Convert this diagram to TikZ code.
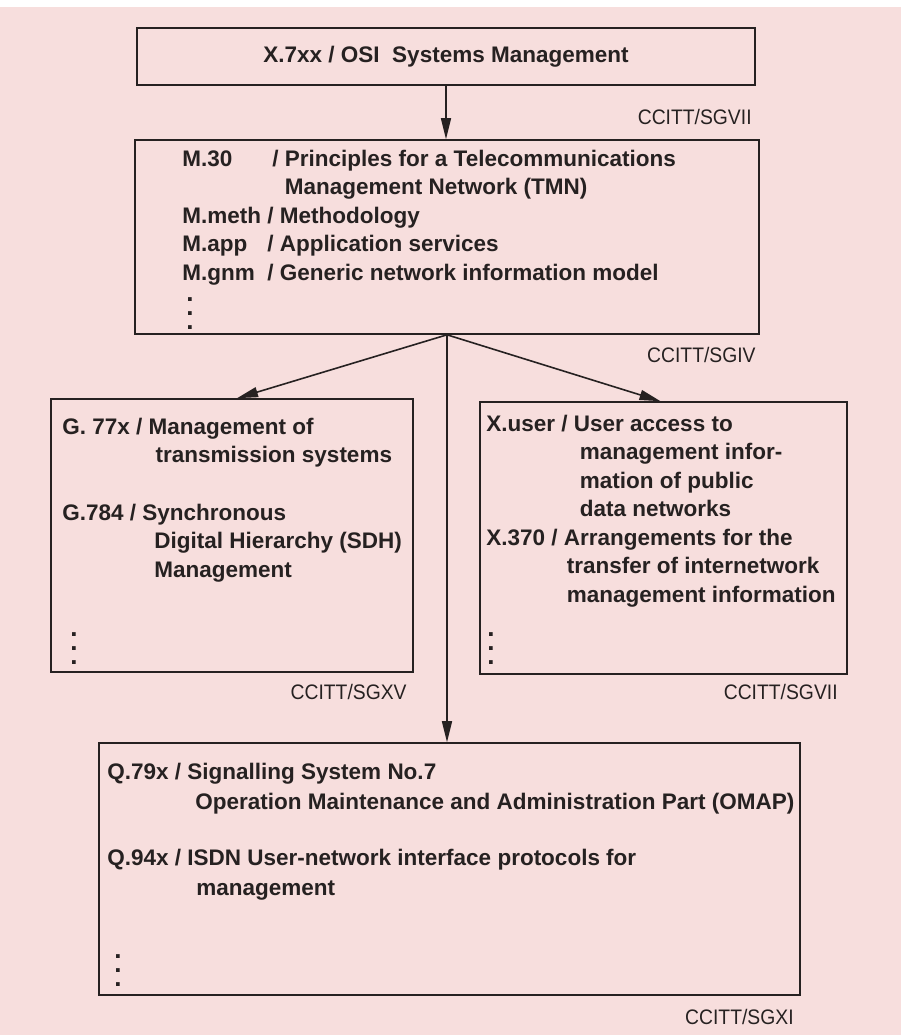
\documentclass[tikz,border=0pt]{standalone}
\usepackage{fontspec}
\setmainfont{Liberation Sans}
\newfontfamily\labelfont[FakeStretch=0.92]{Liberation Sans}
\usetikzlibrary{arrows.meta,positioning,calc}
\definecolor{paperpink}{HTML}{F7DEDD}
\definecolor{inkgray}{HTML}{262121}
\newcommand{\tridots}{\vtop{\baselineskip=14pt\lineskiplimit=-20pt\hbox{.}\hbox{.}\hbox{.}}}
\tikzset{
  box/.style={draw=inkgray,line width=1.6pt,inner sep=0pt,text=inkgray,font=\fontsize{22.5}{28.5}\selectfont\bfseries},
  entry/.style={anchor=base west,inner sep=0pt,text=inkgray,font=\fontsize{22.5}{28.5}\selectfont\bfseries},
  wideentry/.style={entry,font=\fontsize{22.5}{30.5}\selectfont\bfseries},
  dotstack/.style={anchor=base west,inner sep=0pt,text=inkgray,font=\fontsize{26}{14}\selectfont\bfseries},
  group/.style={anchor=base east,inner sep=0pt,text=inkgray,font=\labelfont\fontsize{21}{24}\selectfont},
  flow/.style={-{Triangle[length=21pt,width=10pt]},line width=1.6pt,draw=inkgray}
}

\begin{document}
\begin{tikzpicture}[x=1pt,y=-1pt]
  \useasboundingbox (0,0) rectangle (901,1035);
  \fill[paperpink] (0,0) rectangle (901,1035);
  \fill[white] (0,0) rectangle (901,7);

  % X.7xx
  \node[box,minimum width=618pt,minimum height=57pt] (osi) at (446,56.5) {X.7xx / OSI\ \ Systems Management};
  \node[group] (sgtop) at ([shift={(-4,39)}]osi.south east) {CCITT/SGVII};

  % M series
  \node[box,minimum width=624pt,minimum height=194pt] (mgmt) at (447,237) {};
  \node[entry] (mlist) at ([shift={(48,27)}]mgmt.north west) {%
    \begin{tabular}[t]{@{}l@{}l@{}}
      M.30 & \hspace{5pt}/ Principles for a Telecommunications\\
           & \hspace{5pt}\phantom{/ }Management Network (TMN)\\
      M.meth\ \null & / Methodology\\
      M.app & / Application services\\
      M.gnm & / Generic network information model
    \end{tabular}};
  \node[dotstack] (mdots) at ([shift={(52,162)}]mgmt.north west) {\tridots};
  \node[group] (sgiv) at ([shift={(-4,28)}]mgmt.south east) {CCITT/SGIV};

  % G series
  \node[box,minimum width=362pt,minimum height=273pt] (tx) at (232,535.5) {};
  \node[entry] (g77x) at ([shift={(12,36)}]tx.north west) {G. 77x / \begin{tabular}[t]{@{}l@{}}Management of\\\hspace{7pt}transmission systems\end{tabular}};
  \node[entry] (g784) at ([shift={(12,122)}]tx.north west) {G.784 / \begin{tabular}[t]{@{}l@{}}Synchronous\\\hspace{12pt}Digital Hierarchy (SDH)\\\hspace{12pt}Management\end{tabular}};
  \node[dotstack] (gdots) at ([shift={(20,238)}]tx.north west) {\tridots};
  \node[group] (sgxv) at ([shift={(-7,27)}]tx.south east) {CCITT/SGXV};

  % X series
  \node[box,minimum width=367pt,minimum height=272pt] (rx) at (663.5,538) {};
  \node[entry] (xuser) at ([shift={(7,30)}]rx.north west) {X.user / \begin{tabular}[t]{@{}l@{}}User access to\\\hspace{6pt}management infor-\\\hspace{6pt}mation of public\\\hspace{6pt}data networks\end{tabular}};
  \node[entry] (x370) at ([shift={(7,144)}]rx.north west) {X.370 / \begin{tabular}[t]{@{}l@{}}Arrangements for the\\\hspace{3pt}transfer of internetwork\\\hspace{3pt}management information\end{tabular}};
  \node[dotstack] (xdots) at ([shift={(8,235)}]rx.north west) {\tridots};
  \node[group] (sgvii) at ([shift={(-10,25)}]rx.south east) {CCITT/SGVII};

  % Q series
  \node[box,minimum width=701pt,minimum height=252pt] (q) at (449.5,869) {};
  \node[wideentry] (q79x) at ([shift={(9,37)}]q.north west) {Q.79x / \begin{tabular}[t]{@{}l@{}}Signalling System No.7\\\hspace{8pt}Operation Maintenance and Administration Part (OMAP)\end{tabular}};
  \node[wideentry] (q94x) at ([shift={(9,123)}]q.north west) {Q.94x / \begin{tabular}[t]{@{}l@{}}ISDN User-network interface protocols for\\\hspace{9pt}management\end{tabular}};
  \node[dotstack] (qdots) at ([shift={(16,216)}]q.north west) {\tridots};
  \node[group] (sgxi) at ([shift={(-7,29)}]q.south east) {CCITT/SGXI};

  \coordinate (split) at (mgmt.south);
  \draw[flow] (osi.south) -- (osi.south |- mgmt.north);
  \draw[flow] (split) -- ([xshift=5pt]tx.north);
  \draw[flow] (split) -- ([xshift=-3pt]rx.north);
  \draw[flow] (split) -- (split |- q.north);
\end{tikzpicture}
\end{document}
